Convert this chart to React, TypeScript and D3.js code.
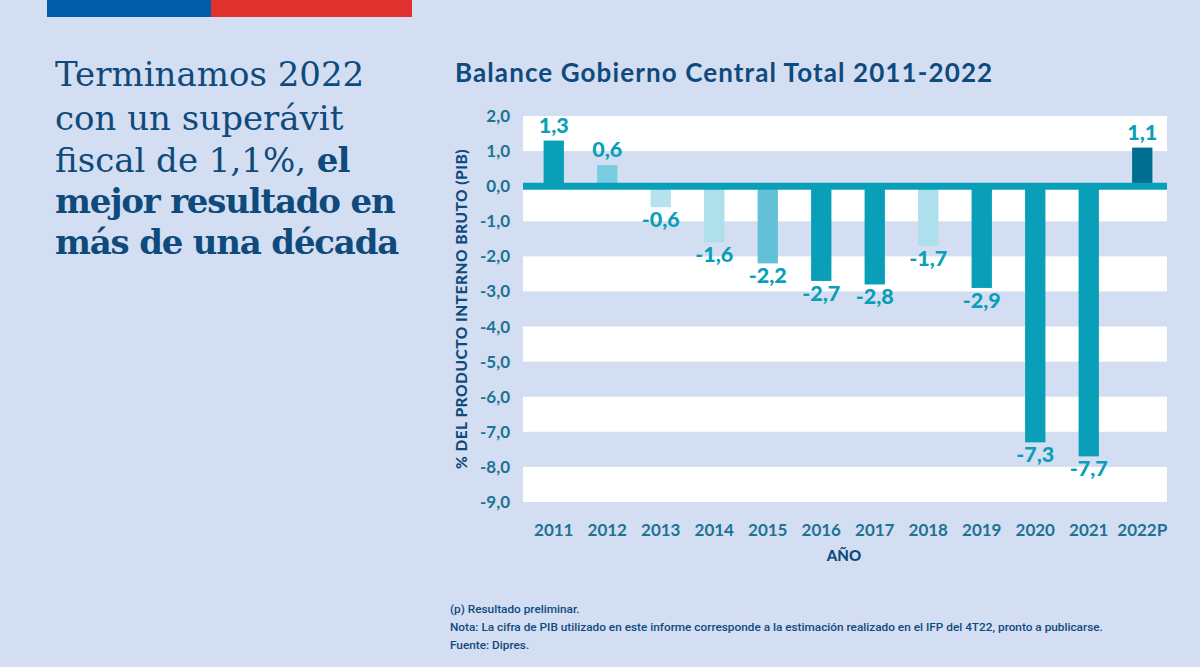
import * as d3 from "d3";

const years = ["2011", "2012", "2013", "2014", "2015", "2016", "2017", "2018", "2019", "2020", "2021", "2022P"];
const balance = [1.3, 0.6, -0.6, -1.6, -2.2, -2.7, -2.8, -1.7, -2.9, -7.3, -7.7, 1.1];
const barColors = ["#0a9fb8", "#79cde0", "#b6e2ee", "#aedfec", "#62c0d7", "#0a9fb8", "#0a9fb8", "#aedfec", "#0a9fb8", "#0a9fb8", "#0a9fb8", "#006f8f"];
const yTicks = [2, 1, 0, -1, -2, -3, -4, -5, -6, -7, -8, -9];
const notes = [
  "(p) Resultado preliminar.",
  "Nota: La cifra de PIB utilizado en este informe corresponde a la estimación realizado en el IFP del 4T22, pronto a publicarse.",
  "Fuente: Dipres.",
];

const W = 1200;
const H = 667;
const plotLeft = 523;
const plotRight = 1167;

const navy = "#0f4a7c";
const teal = "#0a9fb8";
const tickColor = "#1c7392";

const fmt = (v: number) => d3.format(".1f")(v).replace(".", ",").replace("−", "-");

export default function App() {
  const x = d3.scaleBand<string>().domain(years).range([527, 1169]).paddingInner(0.62).paddingOuter(0.31);
  const y = d3.scaleLinear().domain([-9, 2]).range([502, 116]);

  // white stripes every other tick interval, starting at the top
  const stripes = [2, 0, -2, -4, -6, -8];

  return (
    <svg width={W} height={H} style={{ position: "absolute", left: 0, top: 0, background: "#d3def2" }}>
      <rect width={W} height={H} fill="#d3def2" />
      <rect x={47} y={0} width={164} height={17} fill="#005ba8" />
      <rect x={211} y={0} width={201} height={17} fill="#e0312f" />

      <g fontFamily="DejaVu Serif" fill={navy} fontSize={34}>
        <text x={55} y={86}>Terminamos 2022</text>
        <text x={55} y={130}>con un superávit</text>
        <text x={55} y={172}>
          fiscal de 1,1%, <tspan fontWeight="bold" letterSpacing={-1}>el</tspan>
        </text>
        <text x={55} y={213} fontWeight="bold" letterSpacing={-1.2}>mejor resultado en</text>
        <text x={55} y={254} fontWeight="bold" letterSpacing={-1.2}>más de una década</text>
      </g>

      <text x={455} y={82} fontFamily="Lato" fontWeight="bold" fontSize={26} letterSpacing={1.1} fill={navy}>
        Balance Gobierno Central Total 2011-2022
      </text>

      {stripes.map((t) => (
        <rect key={t} x={plotLeft} width={plotRight - plotLeft} y={y(t)} height={y(t - 1) - y(t)} fill="#ffffff" />
      ))}

      {balance.map((v, i) => (
        <rect
          key={years[i]}
          x={x(years[i])}
          width={x.bandwidth()}
          y={Math.min(y(v), y(0))}
          height={Math.abs(y(v) - y(0))}
          fill={barColors[i]}
        />
      ))}

      <line x1={plotLeft} x2={plotRight} y1={y(0)} y2={y(0)} stroke={teal} strokeWidth={7} />

      <g fontFamily="Lato" fontWeight="900" fontSize={21.5} fill={teal} textAnchor="middle">
        {balance.map((v, i) => (
          <text key={years[i]} x={(x(years[i]) ?? 0) + x.bandwidth() / 2} y={v >= 0 ? y(v) - 8 : y(v) + 20}>
            {fmt(v)}
          </text>
        ))}
      </g>

      <g fontFamily="Lato" fontWeight="bold" fontSize={17} fill={tickColor}>
        {yTicks.map((t) => (
          <text key={t} x={510} y={y(t) + 6} textAnchor="end">
            {fmt(t)}
          </text>
        ))}
        {years.map((yr) => (
          <text key={yr} x={(x(yr) ?? 0) + x.bandwidth() / 2} y={536} textAnchor="middle">
            {yr}
          </text>
        ))}
      </g>

      <text
        transform={`translate(467,${(y(2) + y(-9)) / 2}) rotate(-90)`}
        textAnchor="middle"
        fontFamily="Lato"
        fontWeight="900"
        fontSize={15.5}
        letterSpacing={0.5}
        fill={navy}
      >
        % DEL PRODUCTO INTERNO BRUTO (PIB)
      </text>
      <text x={844} y={561} textAnchor="middle" fontFamily="Lato" fontWeight="900" fontSize={15} fill={navy}>
        AÑO
      </text>

      <g fontFamily="Roboto" fontWeight={500} fontSize={11.8} fill={navy}>
        {notes.map((n, i) => (
          <text key={i} x={450} y={613 + i * 18}>
            {n}
          </text>
        ))}
      </g>
    </svg>
  );
}
